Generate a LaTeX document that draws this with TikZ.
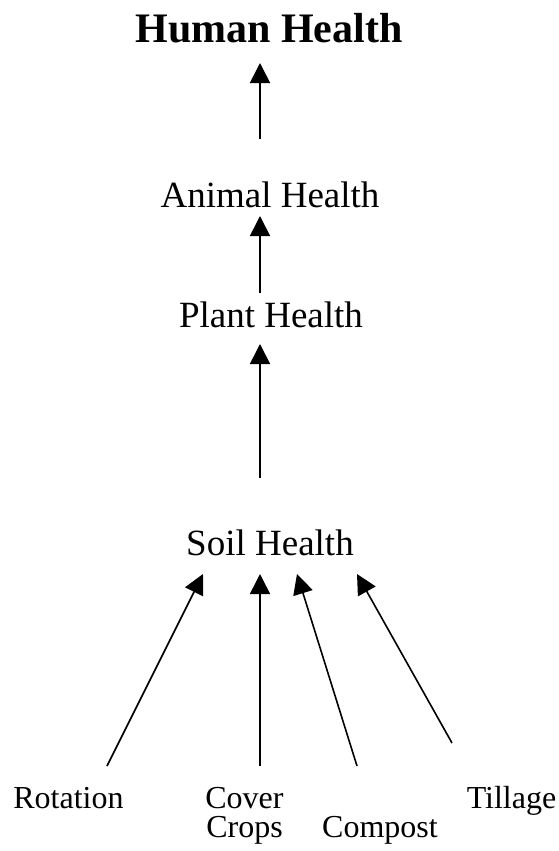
\documentclass[tikz,border=0pt]{standalone}
\usepackage{fontspec}
\setmainfont{Liberation Serif}
\usetikzlibrary{arrows.meta}
\begin{document}
\begin{tikzpicture}[x=1pt,y=-1pt,
  lbl/.style={inner sep=0pt,anchor=base},
  big/.style={lbl,font=\fontsize{37}{40}\selectfont},
  small/.style={lbl,font=\fontsize{32}{39}\selectfont},
  arr/.style={line width=1.6pt,-{Triangle[length=20pt,width=20pt]}}]
\useasboundingbox (0,0) rectangle (559,851);
\node[lbl,font=\fontsize{42}{46}\selectfont\bfseries] (human) at (269,43) {Human Health};
\node[big] (animal) at (270,207) {Animal Health};
\node[big] (plant) at (271,327) {Plant Health};
\node[big] (soil) at (270,555) {Soil Health};
\node[small] (rot) at (68.5,808) {Rotation};
\node[small] (cover) at (244.5,808) {Cover};
\node[small] (crops) at (244.5,837) {Crops};
\node[small] (compost) at (380,837) {Compost};
\node[small] (till) at (511.5,808) {Tillage};
% arrow end points
\coordinate (h1) at (260,63);   \coordinate (h0) at (260,139);
\coordinate (a1) at (260,216);  \coordinate (a0) at (260,293);
\coordinate (p1) at (260,344);  \coordinate (p0) at (260,478);
\coordinate (r1) at (203,574);  \coordinate (r0) at (107,766);
\coordinate (c1) at (260,574);  \coordinate (c0) at (260,766);
\coordinate (m1) at (297,574);  \coordinate (m0) at (357,766);
\coordinate (t1) at (357,574);  \coordinate (t0) at (452,743);
\draw[arr] (h0) -- (h1);
\draw[arr] (a0) -- (a1);
\draw[arr] (p0) -- (p1);
\draw[arr] (r0) -- (r1);
\draw[arr] (c0) -- (c1);
\draw[arr] (m0) -- (m1);
\draw[arr] (t0) -- (t1);
\end{tikzpicture}
\end{document}
